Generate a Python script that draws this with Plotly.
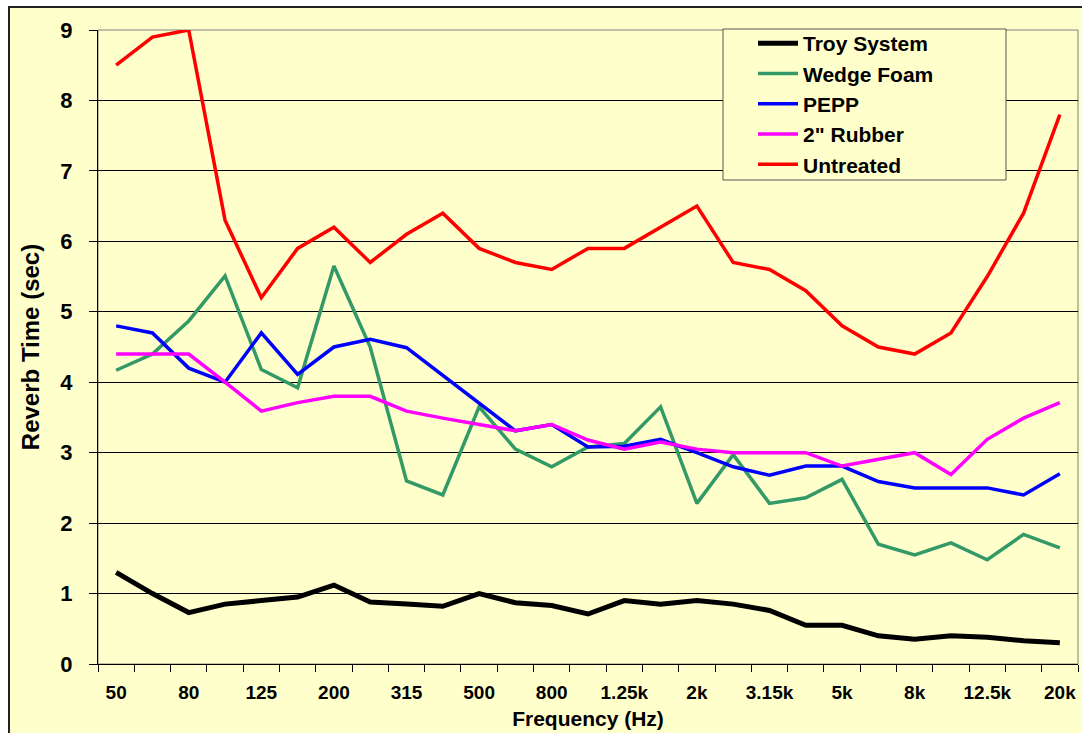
import plotly.graph_objects as go

# ---- data ----
frequencies = ["50", "63", "80", "100", "125", "160", "200", "250", "315", "400",
               "500", "630", "800", "1k", "1.25k", "1.6k", "2k", "2.5k", "3.15k", "4k",
               "5k", "6.3k", "8k", "10k", "12.5k", "16k", "20k"]
tick_labels = ["50", "", "80", "", "125", "", "200", "", "315", "",
               "500", "", "800", "", "1.25k", "", "2k", "", "3.15k", "",
               "5k", "", "8k", "", "12.5k", "", "20k"]

troy_system = [1.30, 1.00, 0.73, 0.85, 0.90, 0.95, 1.12, 0.88, 0.85, 0.82,
               1.00, 0.87, 0.83, 0.71, 0.90, 0.85, 0.90, 0.85, 0.76, 0.55,
               0.55, 0.40, 0.35, 0.40, 0.38, 0.33, 0.30]
wedge_foam = [4.17, 4.40, 4.87, 5.51, 4.18, 3.92, 5.65, 4.50, 2.60, 2.40,
              3.65, 3.05, 2.80, 3.08, 3.13, 3.65, 2.28, 2.97, 2.28, 2.36,
              2.62, 1.70, 1.55, 1.72, 1.48, 1.84, 1.65]
pepp = [4.80, 4.70, 4.20, 4.00, 4.70, 4.11, 4.50, 4.61, 4.49, 4.10,
        3.70, 3.31, 3.40, 3.08, 3.09, 3.19, 3.00, 2.80, 2.68, 2.81,
        2.81, 2.59, 2.50, 2.50, 2.50, 2.40, 2.70]
rubber_2in = [4.40, 4.40, 4.40, 4.00, 3.59, 3.71, 3.80, 3.80, 3.59, 3.49,
              3.40, 3.31, 3.40, 3.18, 3.05, 3.15, 3.05, 3.00, 3.00, 3.00,
              2.81, 2.91, 3.00, 2.69, 3.19, 3.49, 3.71]
untreated = [8.50, 8.90, 9.00, 6.30, 5.20, 5.90, 6.20, 5.70, 6.10, 6.40,
             5.90, 5.70, 5.60, 5.90, 5.90, 6.20, 6.50, 5.70, 5.60, 5.30,
             4.80, 4.50, 4.40, 4.70, 5.50, 6.40, 7.80]

series = [
    ("Troy System", troy_system, "#000000", 5),
    ("Wedge Foam", wedge_foam, "#339966", 3.5),
    ("PEPP", pepp, "#0000FF", 3.5),
    ('2" Rubber', rubber_2in, "#FF00FF", 3.5),
    ("Untreated", untreated, "#FF0000", 3.5),
]

FONT = "Liberation Sans, Arial, sans-serif"
BG = "#FFFFCC"

fig = go.Figure()
for name, vals, color, width in series:
    fig.add_trace(go.Scatter(x=frequencies, y=vals, name=name, mode="lines",
                             line=dict(color=color, width=width)))

# pixel helpers for paper coords (plot area: x 98..1078, y 30..664)
L, R, T, B = 98, 1078, 30, 664
def px(x):
    return (x - L) / (R - L)
def py(y):
    return (B - y) / (B - T)

shapes = [
    # chart area background + border
    dict(type="rect", xref="paper", yref="paper", x0=px(9), x1=px(1095), y0=py(745), y1=py(7),
         line=dict(color="#222222", width=2), fillcolor=BG, layer="below"),
    # plot area border
    dict(type="rect", xref="paper", yref="paper", x0=0, x1=1, y0=0, y1=1,
         line=dict(color="#808080", width=1), fillcolor="rgba(0,0,0,0)", layer="below"),
    # legend box
    dict(type="rect", xref="paper", yref="paper", x0=px(723), x1=px(1006), y0=py(180), y1=py(29),
         line=dict(color="#555555", width=1), fillcolor=BG, layer="above"),
]

fig.update_layout(
    width=1082, height=733,
    margin=dict(l=L, r=1082 - R, t=T, b=733 - B, autoexpand=False),
    paper_bgcolor="white",
    plot_bgcolor="rgba(0,0,0,0)",
    font=dict(family=FONT, color="black", weight="bold"),
    shapes=shapes,
    showlegend=True,
    legend=dict(x=px(753), xanchor="left", y=py(23), yanchor="top",
                bgcolor="rgba(0,0,0,0)", borderwidth=0,
                font=dict(family=FONT, size=21, color="black", weight="bold"),
                tracegroupgap=0, itemwidth=40),
    xaxis=dict(type="category", categoryorder="array", categoryarray=frequencies,
               tickmode="array", tickvals=frequencies, ticktext=tick_labels,
               tickson="boundaries", ticks="outside", ticklen=7, tickcolor="black",
               tickangle=0, automargin=False,
               showline=True, linecolor="black", linewidth=1, showgrid=False,
               range=[-0.5, 26.5],
               tickfont=dict(family=FONT, size=19, weight="bold"),
               ticklabelstandoff=11,
               title=dict(text="Frequency (Hz)", font=dict(family=FONT, size=21, weight="bold"),
                          standoff=9)),
    yaxis=dict(range=[0, 9], dtick=1, tick0=0, ticks="outside", ticklen=8, tickcolor="black",
               automargin=False,
               showline=True, linecolor="black", linewidth=1,
               showgrid=True, gridcolor="black", gridwidth=1, zeroline=False,
               tickfont=dict(family=FONT, size=22, weight="bold"),
               ticklabelstandoff=12,
               title=dict(text="Reverb Time (sec)", font=dict(family=FONT, size=24, weight="bold"),
                          standoff=13)),
)

fig.write_html("out.html", config={"displayModeBar": False},
               post_script="document.body.style.margin='0px';document.body.style.overflow='hidden';")
